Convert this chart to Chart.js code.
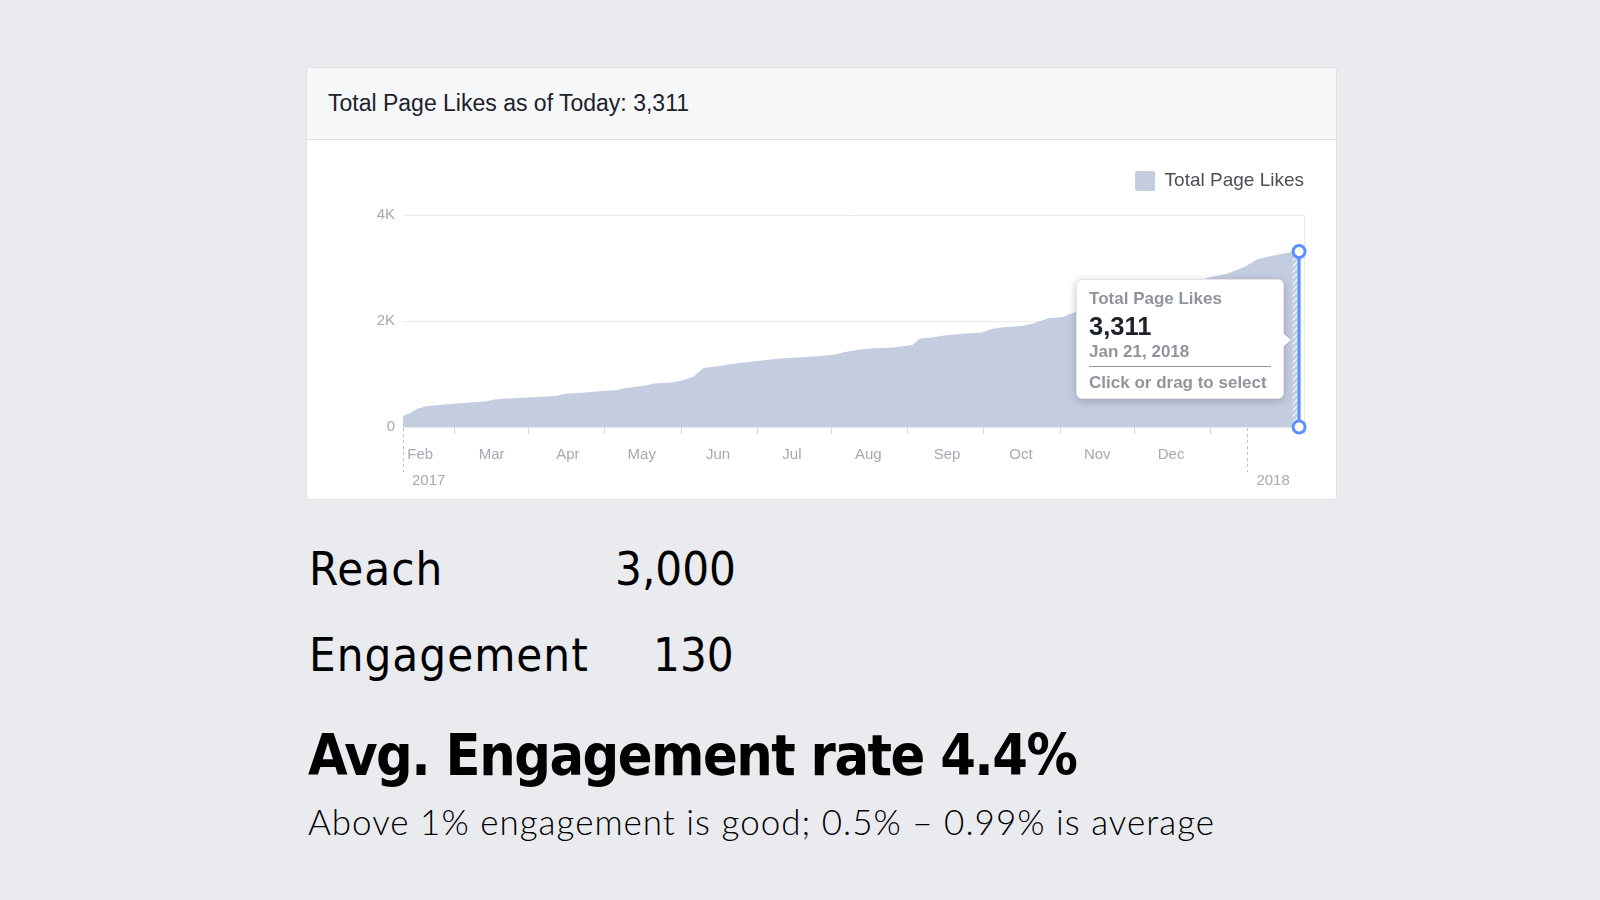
<!DOCTYPE html>
<html>
<head>
<meta charset="utf-8">
<script src="https://cdn.jsdelivr.net/npm/chart.js@4.4.1/dist/chart.umd.min.js"></script>
<style>
  html, body { margin: 0; padding: 0; }
  body { width: 1600px; height: 900px; background: #e9ebee; position: relative; overflow: hidden; font-family: "Liberation Sans", Arial, sans-serif; }
  .card { position: absolute; left: 306px; top: 67px; width: 1031px; height: 433px; box-sizing: border-box; background: #fff; border: 1px solid #dddfe2; border-radius: 3px; }
  .card-head { height: 72px; background: #f6f7f9; border-bottom: 1px solid #dddfe2; box-sizing: border-box; border-radius: 3px 3px 0 0; }
  .card-title { position: absolute; left: 21px; top: 24px; font-size: 23px; line-height: 1; letter-spacing: 0; color: #1d2129; white-space: nowrap; }
  .chart-wrap { position: absolute; left: 308px; top: 141px; width: 1028px; height: 356px; }
  .tip { position: absolute; width: 208px; height: 120px; box-sizing: border-box; background: #fff; border: 1px solid rgba(0,0,0,0.10); border-radius: 6px; box-shadow: 0 2px 9px rgba(0,0,0,0.22); font-weight: bold; color: #90949c; display: none; }
  .tip div { position: absolute; left: 12px; line-height: 1; white-space: nowrap; }
  .tip .t-title { top: 10px; font-size: 17px; }
  .tip .t-value { top: 34px; font-size: 25.5px; color: #1d2129; }
  .tip .t-date { top: 63px; font-size: 17px; }
  .tip .t-sep { top: 86px; width: 182px; height: 0; border-top: 1.5px solid #90949c; }
  .tip .t-hint { top: 94px; font-size: 17px; }
  .tip .t-caret { left: auto; right: -8px; top: 53px; width: 0; height: 0; border-top: 7px solid transparent; border-bottom: 7px solid transparent; border-left: 8px solid #fff; filter: drop-shadow(1px 0 1px rgba(0,0,0,0.12)); }
  .stat { position: absolute; line-height: 1; white-space: nowrap; color: #000; font-family: "DejaVu Sans Condensed", "DejaVu Sans", sans-serif; font-stretch: condensed; }
  .big { font-size: 47px; }
  .label { letter-spacing: 1px; }
  .rate { font-size: 57px; font-weight: bold; letter-spacing: -1.5px; }
  .note { font-family: Lato, "Open Sans", sans-serif; font-stretch: normal; font-weight: 300; font-size: 35px; letter-spacing: 1px; }
</style>
</head>
<body>
<div class="card">
  <div class="card-head"><div class="card-title">Total Page Likes as of Today: 3,311</div></div>
</div>
<div class="chart-wrap"><canvas id="likesChart"></canvas></div>
<div class="tip" id="likesTip">
  <div class="t-title"></div>
  <div class="t-value"></div>
  <div class="t-date"></div>
  <div class="t-sep"></div>
  <div class="t-hint">Click or drag to select</div>
  <div class="t-caret"></div>
</div>

<div class="stat big label" style="left:309px; top:545px;">Reach</div>
<div class="stat big" style="left:615px; top:545px;">3,000</div>
<div class="stat big label" style="left:309px; top:631px;">Engagement</div>
<div class="stat big" style="left:653px; top:631px;">130</div>
<div class="stat rate" style="left:308px; top:727px;">Avg. Engagement rate 4.4%</div>
<div class="stat note" style="left:308px; top:804px;">Above 1% engagement is good; 0.5% – 0.99% is average</div>

<script>
/* global Chart */
// day 0 = Jan 22, 2017
const startDate = Date.UTC(2017, 0, 22);

const dayIndex = [0, 3, 6, 10, 14, 18, 22, 34, 37, 41, 51, 62, 66, 73, 81, 87, 90, 94, 98, 102,
  110, 114, 118, 122, 128, 134, 144, 152, 157, 167, 175, 179, 186, 190, 199, 207, 210, 214, 219, 226,
  235, 239, 243, 252, 256, 262, 268, 271, 273, 285, 300, 315, 327, 335, 342, 347, 354, 361, 364];
const pageLikes = [209, 266, 349, 398, 412, 431, 444, 488, 520, 531, 558, 583, 626, 645, 677, 698, 729, 753, 778, 823,
  842, 886, 949, 1114, 1146, 1195, 1247, 1290, 1304, 1328, 1361, 1412, 1461, 1480, 1499, 1545, 1670, 1683, 1721, 1753,
  1784, 1848, 1879, 1911, 1955, 2050, 2076, 2133, 2163, 2290, 2470, 2650, 2816, 2897, 3025, 3163, 3239, 3302, 3311];

const yTickValues = [0, 2000, 4000];
const yTickLabels = ['0', '2K', '4K'];
const monthTickDays = [21, 51, 82, 113, 144, 174, 205, 236, 267, 297, 328, 366];
const monthLabelDays = [7, 36, 67, 97, 128, 158, 189, 221, 251, 282, 312];
const monthLabels = ['Feb', 'Mar', 'Apr', 'May', 'Jun', 'Jul', 'Aug', 'Sep', 'Oct', 'Nov', 'Dec'];
const yearDays = [0, 343];
const yearLabels = ['2017', '2018'];
const selectedDay = 364;
const selectedLikes = 3311;

const AREA = '#c4cde0';
const BLUE = '#5890ff';
const AXIS_TEXT = '#a4a9b3';
const FONT = '"Liberation Sans", Arial, sans-serif';

function fixedTicks(values) {
  return (scale) => { scale.ticks = values.map((value) => ({ value })); };
}

function hatchPattern(ctx) {
  const c = document.createElement('canvas');
  c.width = 6; c.height = 6;
  const p = c.getContext('2d');
  p.fillStyle = AREA;
  p.fillRect(0, 0, 6, 6);
  p.strokeStyle = 'rgba(255,255,255,0.75)';
  p.lineWidth = 1.5;
  p.beginPath();
  p.moveTo(0, 6); p.lineTo(6, 0);
  p.moveTo(-3, 3); p.lineTo(3, -3);
  p.moveTo(3, 9); p.lineTo(9, 3);
  p.stroke();
  return ctx.createPattern(c, 'repeat');
}

const legendSpacing = {
  id: 'legendSpacing',
  afterInit(chart) {
    const fit = chart.legend.fit;
    chart.legend.fit = function () {
      fit.call(this);
      this.height += 14;
    };
  },
};

const selectionMarks = {
  id: 'selectionMarks',
  beforeDatasetDraw(chart, args) {
    if (args.index !== 1) return;
    const { ctx, scales: { x, y } } = chart;
    const left = x.getPixelForValue(selectedDay - 2.6);
    const right = x.getPixelForValue(selectedDay) - 1.5;
    const top = y.getPixelForValue(pageLikes[pageLikes.length - 2]);
    ctx.save();
    ctx.fillStyle = hatchPattern(ctx);
    ctx.fillRect(left, top, right - left, y.getPixelForValue(0) - top);
    ctx.restore();
  },
  afterDraw(chart) {
    const { ctx, chartArea } = chart;
    const xy = chart.scales.xy;
    ctx.save();
    ctx.strokeStyle = '#bcc0c7';
    ctx.lineWidth = 1;
    ctx.setLineDash([3, 3]);
    yearDays.forEach((day) => {
      const px = Math.round(xy.getPixelForValue(day)) + 0.5;
      ctx.beginPath();
      ctx.moveTo(px, chartArea.bottom + 1);
      ctx.lineTo(px, xy.top + 10);
      ctx.stroke();
    });
    ctx.restore();
  },
};

function externalTip(context) {
  const { chart, tooltip } = context;
  const el = document.getElementById('likesTip');
  if (!tooltip.opacity || !tooltip.dataPoints || !tooltip.dataPoints.length) {
    el.style.display = 'none';
    return;
  }
  const point = tooltip.dataPoints[0];
  const date = new Date(startDate + point.parsed.x * 86400000);
  el.querySelector('.t-title').textContent = point.dataset.label;
  el.querySelector('.t-value').textContent = point.parsed.y.toLocaleString('en-US');
  el.querySelector('.t-date').textContent = date.toLocaleDateString('en-US', { month: 'short', day: 'numeric', year: 'numeric', timeZone: 'UTC' });

  const rect = chart.canvas.getBoundingClientRect();
  const yScale = chart.scales.y;
  const mid = (yScale.getPixelForValue(point.parsed.y) + yScale.getPixelForValue(0)) / 2;
  el.style.display = 'block';
  el.style.left = (rect.left + window.scrollX + tooltip.caretX - 15 - 208) + 'px';
  el.style.top = (rect.top + window.scrollY + mid - 60.5) + 'px';
}

const likesChart = new Chart(document.getElementById('likesChart'), {
  type: 'line',
  data: {
    datasets: [
      {
        label: 'Total Page Likes',
        data: dayIndex.map((d, i) => ({ x: d, y: pageLikes[i] })),
        backgroundColor: AREA,
        borderColor: AREA,
        borderWidth: 0,
        fill: 'origin',
        pointRadius: 0,
        pointHoverRadius: 0,
        tension: 0,
        order: 1,
      },
      {
        label: 'selection',
        data: [{ x: selectedDay, y: 0 }, { x: selectedDay, y: selectedLikes }],
        borderColor: BLUE,
        borderWidth: 3,
        pointRadius: 6,
        pointHoverRadius: 6,
        pointBorderWidth: 3,
        pointHoverBorderWidth: 3,
        pointBackgroundColor: '#fff',
        pointBorderColor: BLUE,
        fill: false,
        clip: false,
        order: 0,
      },
    ],
  },
  options: {
    responsive: true,
    maintainAspectRatio: false,
    animation: false,
    events: [],
    layout: { padding: { top: 20, right: 22, bottom: 9, left: 0 } },
    plugins: {
      legend: {
        position: 'top',
        align: 'end',
        labels: {
          boxWidth: 20,
          boxHeight: 20,
          padding: 10,
          color: '#4b4f56',
          font: { family: FONT, size: 19 },
          useBorderRadius: true,
          borderRadius: 2,
          filter: (item) => item.datasetIndex === 0,
        },
      },
      tooltip: {
        enabled: false,
        mode: 'nearest',
        intersect: false,
        external: externalTip,
      },
    },
    scales: {
      x: {
        type: 'linear', position: 'bottom', weight: 0, min: 0, max: 366,
        afterBuildTicks: fixedTicks(monthTickDays),
        ticks: { display: false },
        grid: { drawOnChartArea: false, drawTicks: true, tickLength: 7, tickColor: '#d3d6db', tickWidth: 1 },
        border: { display: false },
        afterFit: (s) => { s.height = 7; },
      },
      xm: {
        type: 'linear', position: 'bottom', weight: 1, min: 0, max: 366,
        afterBuildTicks: fixedTicks(monthLabelDays),
        ticks: {
          autoSkip: false, maxRotation: 0, padding: 12, color: AXIS_TEXT,
          font: { family: FONT, size: 15 },
          callback: (v, i) => monthLabels[i],
        },
        grid: { display: false, drawTicks: false },
        border: { display: false },
        afterFit: (s) => { s.height = 28; },
      },
      xy: {
        type: 'linear', position: 'bottom', weight: 2, min: 0, max: 366,
        afterBuildTicks: fixedTicks(yearDays),
        ticks: {
          autoSkip: false, maxRotation: 0, padding: 10, align: 'start', labelOffset: 9, color: AXIS_TEXT,
          font: { family: FONT, size: 15 },
          callback: (v, i) => yearLabels[i],
        },
        grid: { display: false, drawTicks: false },
        border: { display: false },
        afterFit: (s) => { s.height = 26; },
      },
      y: {
        type: 'linear', position: 'left', min: 0, max: 4000,
        afterBuildTicks: fixedTicks(yTickValues),
        ticks: {
          padding: 8, color: AXIS_TEXT,
          font: { family: FONT, size: 15 },
          callback: (v, i) => yTickLabels[i],
        },
        grid: { color: '#e9ebee', drawTicks: false },
        border: { display: false },
        afterFit: (s) => { s.width = 95; },
      },
      yr: {
        type: 'linear', position: 'right', min: 0, max: 4000,
        ticks: { display: false },
        grid: { display: false, drawTicks: false },
        border: { display: true, color: '#e6e8ec', width: 1 },
        afterFit: (s) => { s.width = 10; },
      },
    },
  },
  plugins: [legendSpacing, selectionMarks],
});

likesChart.tooltip.setActiveElements(
  [{ datasetIndex: 0, index: pageLikes.length - 1 }],
  { x: likesChart.scales.x.getPixelForValue(selectedDay), y: likesChart.scales.y.getPixelForValue(selectedLikes) }
);
</script>
</body>
</html>
